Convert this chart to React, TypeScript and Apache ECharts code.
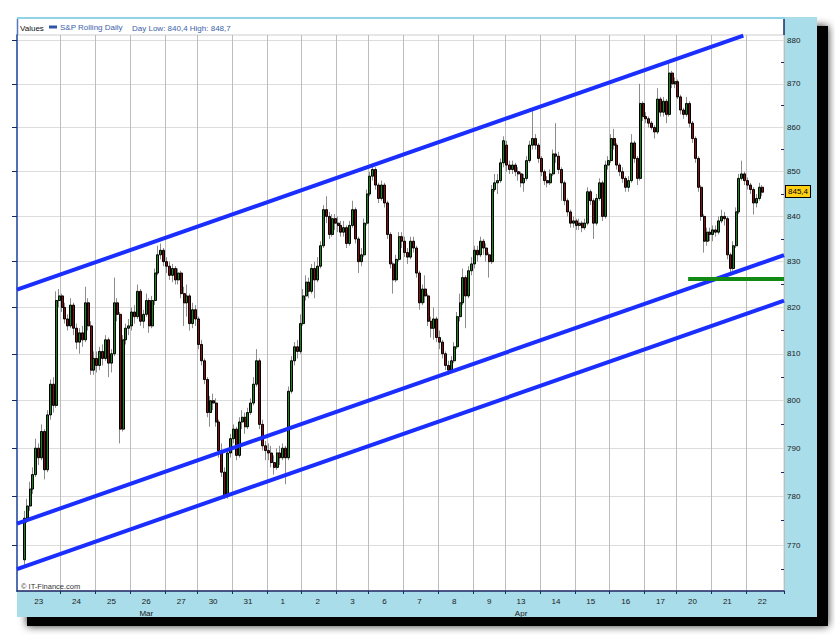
import React, { useEffect, useRef } from 'react';
import * as echarts from 'echarts';

const FONT = '"Liberation Sans", Arial, Helvetica, sans-serif';

// Trading days shown on the x axis
const dayLabels = ['23', '24', '25', '26', '27', '30', '31', '1', '2', '3', '6', '7', '8', '9', '13', '14', '15', '16', '17', '20', '21', '22'];
// second line under a day label (day index -> month)
const monthUnderDay: Record<number, string> = { 3: 'Mar', 14: 'Apr' };
const leadingEmptySlots = 2;
const trailingEmptySlots = 7;

// intraday candles: [open, close, low, high]
const mar23 = [
  [767.0, 775.5, 766.0, 777.0], [775.5, 778.0, 774.5, 779.5], [778.0, 781.5, 777.0, 783.0],
  [781.5, 784.5, 780.5, 786.0], [784.5, 790.0, 784.0, 792.0], [790.0, 788.0, 786.5, 791.0],
  [788.0, 793.5, 787.5, 795.0], [793.5, 785.5, 783.5, 794.0], [785.5, 797.0, 785.0, 798.0],
  [797.0, 803.5, 796.0, 804.5], [803.5, 799.0, 797.5, 805.0], [799.0, 821.5, 798.5, 823.5],
  [821.5, 822.5, 820.0, 824.0],
];
const mar24 = [
  [822.5, 820.0, 819.0, 823.0], [820.0, 817.5, 816.5, 821.0], [817.5, 816.0, 815.0, 818.5],
  [816.0, 820.5, 815.5, 822.0], [820.5, 815.5, 814.0, 821.0], [815.5, 812.5, 811.0, 816.5],
  [812.5, 814.5, 810.0, 815.5], [814.5, 813.0, 811.5, 816.0], [813.0, 821.0, 812.5, 824.5],
  [821.0, 816.0, 815.0, 822.0], [816.0, 806.5, 805.5, 817.0], [806.5, 809.0, 805.5, 810.5],
];
const mar25 = [
  [809.0, 807.5, 806.0, 810.5], [807.5, 810.5, 806.5, 811.5], [810.5, 809.0, 807.5, 812.0],
  [809.0, 813.0, 808.5, 814.0], [813.0, 808.0, 805.0, 813.5], [808.0, 810.0, 806.0, 811.0],
  [810.0, 821.0, 809.5, 826.5], [821.0, 818.5, 817.0, 822.0], [818.5, 794.0, 791.0, 819.0],
  [794.0, 813.0, 793.5, 814.0], [813.0, 815.5, 812.0, 816.5], [815.5, 816.0, 814.0, 817.5],
];
const mar26 = [
  [816.0, 819.0, 815.0, 820.0], [819.0, 818.0, 816.5, 820.5], [818.0, 823.5, 817.5, 825.0],
  [823.5, 817.0, 816.0, 824.0], [817.0, 818.5, 815.5, 819.5], [818.5, 821.5, 818.0, 823.0],
  [821.5, 816.0, 814.5, 822.0], [816.0, 821.5, 815.5, 822.5], [821.5, 827.5, 820.5, 828.5],
  [827.5, 831.5, 827.0, 833.5], [831.5, 832.5, 830.5, 834.0], [832.5, 830.0, 829.0, 833.0],
];
const mar27 = [
  [830.0, 829.0, 827.5, 831.0], [829.0, 827.0, 826.0, 830.0], [827.0, 828.5, 825.5, 829.5],
  [828.5, 826.0, 825.0, 829.0], [826.0, 827.5, 825.0, 828.5], [827.5, 823.0, 822.0, 828.0],
  [823.0, 821.0, 816.0, 824.5], [821.0, 822.5, 818.0, 825.0], [822.5, 816.5, 815.0, 823.0],
  [816.5, 819.5, 815.5, 821.0], [819.5, 817.5, 816.0, 820.5],
];
const mar30 = [
  [817.5, 812.0, 811.0, 818.0], [812.0, 808.5, 807.5, 813.0], [808.5, 804.5, 803.5, 809.0],
  [804.5, 797.5, 796.5, 805.0], [797.5, 800.0, 794.5, 801.0], [800.0, 799.5, 798.0, 801.5],
  [799.5, 795.5, 794.5, 800.5], [795.5, 789.5, 788.0, 796.0], [789.5, 785.0, 784.0, 791.0],
  [785.0, 780.0, 779.5, 786.0], [780.0, 789.0, 779.5, 790.0], [789.0, 792.0, 788.0, 793.0],
];
const mar31 = [
  [792.0, 794.0, 791.0, 795.0], [794.0, 788.5, 787.5, 794.5], [788.5, 795.5, 788.0, 796.5],
  [795.5, 796.5, 794.0, 798.0], [796.5, 794.5, 793.0, 797.5], [794.5, 797.5, 794.0, 798.5],
  [797.5, 799.5, 797.0, 800.5], [799.5, 803.5, 799.0, 805.0], [803.5, 808.5, 803.0, 811.0],
  [808.5, 795.0, 794.0, 809.0], [795.0, 790.5, 789.5, 796.0], [790.5, 789.5, 787.5, 791.5],
];
const apr01 = [
  [789.5, 789.0, 787.5, 791.0], [789.0, 787.0, 786.0, 790.5], [787.0, 786.0, 784.5, 788.5],
  [786.0, 789.0, 785.5, 790.0], [789.0, 788.0, 786.5, 790.5], [788.0, 790.0, 787.5, 791.0],
  [790.0, 788.0, 782.5, 790.5], [788.0, 802.0, 787.5, 803.0], [802.0, 808.5, 801.5, 809.5],
  [808.5, 811.5, 807.5, 812.5], [811.5, 810.5, 809.0, 813.0], [810.5, 816.5, 810.0, 818.5],
];
const apr02 = [
  [816.5, 822.5, 816.0, 824.0], [822.5, 825.5, 821.5, 827.0], [825.5, 823.5, 822.0, 826.5],
  [823.5, 828.5, 823.0, 829.5], [828.5, 826.0, 822.0, 830.0], [826.0, 829.0, 825.5, 831.0],
  [829.0, 833.5, 828.5, 834.5], [833.5, 841.5, 833.0, 842.5], [841.5, 840.0, 838.5, 844.5],
  [840.0, 836.0, 835.0, 841.0], [836.0, 839.5, 835.5, 840.5], [839.5, 838.5, 837.0, 840.5],
];
const apr03 = [
  [838.5, 838.0, 836.5, 840.0], [838.0, 836.5, 835.5, 839.0], [836.5, 837.5, 835.5, 839.0],
  [837.5, 834.0, 833.0, 838.0], [834.0, 838.0, 833.5, 839.0], [838.0, 841.5, 837.5, 843.5],
  [841.5, 835.0, 834.0, 842.0], [835.0, 830.0, 827.5, 835.5], [830.0, 831.5, 829.0, 833.0],
  [831.5, 838.5, 831.0, 839.5], [838.5, 845.0, 838.0, 846.0],
];
const apr06 = [
  [845.0, 849.0, 844.5, 850.0], [849.0, 850.5, 848.0, 851.8], [850.5, 847.0, 846.0, 851.0],
  [847.0, 844.0, 843.0, 847.5], [844.0, 847.0, 843.5, 848.0], [847.0, 843.0, 842.0, 847.5],
  [843.0, 836.0, 835.0, 843.5], [836.0, 829.5, 828.5, 836.5], [829.5, 826.0, 823.0, 830.0],
  [826.0, 830.5, 825.5, 831.5], [830.5, 835.5, 830.0, 836.5], [835.5, 834.5, 833.0, 836.5],
];
const apr07 = [
  [834.5, 832.0, 831.0, 835.5], [832.0, 831.0, 829.5, 833.0], [831.0, 834.5, 830.5, 835.5],
  [834.5, 833.0, 832.0, 835.5], [833.0, 827.5, 826.5, 833.5], [827.5, 821.0, 819.5, 828.0],
  [821.0, 824.0, 820.5, 825.0], [824.0, 822.5, 821.0, 827.0], [822.5, 817.0, 816.0, 823.0],
  [817.0, 815.5, 813.5, 818.0], [815.5, 817.5, 813.0, 820.0], [817.5, 813.5, 812.5, 818.0],
];
const apr08 = [
  [813.5, 812.5, 811.0, 815.0], [812.5, 810.0, 809.0, 813.0], [810.0, 807.5, 806.5, 810.5],
  [807.5, 806.5, 805.5, 808.5], [806.5, 808.5, 806.0, 809.5], [808.5, 811.5, 808.0, 812.5],
  [811.5, 818.0, 811.0, 819.0], [818.0, 821.0, 817.0, 823.0], [821.0, 826.5, 820.5, 828.5],
  [826.5, 822.5, 815.5, 827.0], [822.5, 828.0, 822.0, 829.0], [828.0, 829.5, 827.0, 831.0],
];
const apr09 = [
  [829.5, 832.5, 828.5, 833.5], [832.5, 831.5, 830.0, 833.5], [831.5, 834.5, 831.0, 835.5],
  [834.5, 833.0, 831.5, 835.0], [833.0, 831.5, 830.0, 834.0], [831.5, 830.0, 826.5, 832.0],
  [830.0, 846.0, 829.5, 847.0], [846.0, 847.5, 845.5, 849.5], [847.5, 848.0, 845.0, 849.5],
  [848.0, 852.0, 847.5, 853.0], [852.0, 857.0, 851.0, 858.0],
];
const apr13 = [
  [856.0, 851.5, 850.0, 857.0], [851.5, 850.5, 849.5, 852.5], [850.5, 851.5, 849.5, 852.5],
  [851.5, 850.0, 849.0, 852.0], [850.0, 849.5, 848.0, 851.0], [849.5, 847.5, 846.5, 850.0],
  [847.5, 848.5, 845.5, 849.5], [848.5, 852.5, 848.0, 853.5], [852.5, 856.0, 852.0, 857.0],
  [856.0, 857.5, 855.0, 864.5], [857.5, 856.0, 855.0, 858.5], [856.0, 853.0, 852.0, 856.5],
];
const apr14 = [
  [853.0, 850.0, 849.0, 853.5], [850.0, 848.0, 847.0, 850.5], [848.0, 847.5, 846.5, 849.0],
  [847.5, 849.5, 847.0, 850.5], [849.5, 854.0, 849.0, 855.0], [854.0, 853.5, 852.0, 861.0],
  [853.5, 850.5, 849.5, 854.5], [850.5, 847.5, 843.5, 851.0], [847.5, 843.5, 842.5, 848.0],
  [843.5, 841.0, 840.0, 844.0], [841.0, 838.5, 837.5, 841.5], [838.5, 839.0, 837.5, 840.0],
];
const apr15 = [
  [839.0, 838.0, 837.0, 839.5], [838.0, 838.5, 837.0, 839.5], [838.5, 837.5, 836.5, 839.0],
  [837.5, 838.5, 837.0, 839.5], [838.5, 845.5, 838.0, 846.5], [845.5, 843.5, 842.5, 846.0],
  [843.5, 838.5, 835.0, 844.0], [838.5, 844.0, 838.0, 845.0], [844.0, 847.5, 843.5, 848.5],
  [847.5, 840.0, 839.0, 848.0], [840.0, 851.5, 839.5, 852.5], [851.5, 852.5, 850.5, 853.5],
];
const apr16 = [
  [852.5, 857.5, 852.0, 858.5], [857.5, 856.0, 855.0, 859.7], [856.0, 851.5, 850.5, 856.5],
  [851.5, 850.0, 849.0, 852.0], [850.0, 848.5, 847.5, 851.0], [848.5, 846.5, 845.5, 849.0],
  [846.5, 848.0, 845.5, 849.0], [848.0, 856.5, 847.5, 858.5], [856.5, 853.0, 852.0, 857.0],
  [853.0, 848.5, 847.0, 853.5], [848.5, 865.5, 848.0, 870.0], [865.5, 862.5, 861.5, 866.0],
];
const apr17 = [
  [862.5, 862.0, 861.0, 863.5], [862.0, 861.0, 860.0, 862.5], [861.0, 860.0, 859.5, 861.5],
  [860.0, 859.0, 857.5, 860.5], [859.0, 866.5, 858.5, 869.0], [866.5, 863.5, 862.5, 867.0],
  [863.5, 866.0, 862.5, 867.0], [866.0, 863.0, 861.0, 866.5], [863.0, 872.5, 862.5, 875.0],
  [872.5, 870.0, 869.0, 873.0], [870.0, 870.5, 869.0, 871.5],
];
const apr20 = [
  [870.5, 867.0, 866.5, 871.0], [867.0, 864.0, 863.0, 867.5], [864.0, 863.0, 862.0, 864.5],
  [863.0, 865.5, 862.5, 867.0], [865.5, 861.0, 860.0, 866.0], [861.0, 857.5, 856.5, 861.5],
  [857.5, 853.0, 852.0, 858.0], [853.0, 846.5, 845.5, 853.5], [846.5, 840.0, 839.0, 847.0],
  [840.0, 834.5, 832.0, 840.5], [834.5, 836.5, 833.5, 837.5], [836.5, 836.0, 834.5, 837.5],
];
const apr21 = [
  [836.0, 837.0, 834.5, 838.0], [837.0, 836.5, 835.5, 838.0], [836.5, 839.0, 836.0, 840.0],
  [839.0, 840.0, 838.5, 841.5], [840.0, 839.5, 838.0, 841.0], [839.5, 831.5, 830.5, 840.0],
  [831.5, 828.5, 827.0, 832.0], [828.5, 833.5, 828.0, 834.5], [833.5, 841.0, 833.0, 842.0],
  [841.0, 848.5, 840.5, 849.5], [848.5, 849.5, 848.0, 852.5], [849.5, 848.0, 847.0, 850.0],
];
const apr22 = [
  [848.0, 847.0, 846.0, 848.7], [847.0, 846.0, 845.0, 847.5], [846.0, 843.0, 840.4, 846.5],
  [843.0, 844.0, 842.0, 845.0], [844.0, 846.5, 843.5, 847.5], [846.5, 845.4, 844.5, 847.0],
];

const dayBars = [mar23, mar24, mar25, mar26, mar27, mar30, mar31, apr01, apr02, apr03, apr06, apr07, apr08, apr09, apr13, apr14, apr15, apr16, apr17, apr20, apr21, apr22];

// price axis (logarithmic chart)
const priceMin = 760.69;
const priceMax = 881.33;
const priceLabels = [770, 780, 790, 800, 810, 820, 830, 840, 850, 860, 870, 880];
const priceMinorTicks = [765, 775, 785, 795, 805, 815, 825, 835, 845, 855, 865, 875];

// drawn trend lines: [slot position, price]
const channelUpper = [[0, 823.85], [250, 881.21]];
const channelMiddle = [[0, 774.39], [264, 831.44]];
const channelLower = [[0, 765.12], [264, 821.48]];
const supportLine = [[231, 826.2], [264, 826.2]];

const fmt = (v: number) => v.toFixed(1).replace('.', ',');

export default function App() {
  const ref = useRef<HTMLDivElement>(null);
  useEffect(() => {
    if (!ref.current) return;
    const chart = echarts.init(ref.current, undefined, { renderer: 'svg' });

    const categories: string[] = [];
    const labelAt: Record<number, string> = {};
    const boundaryAt: Record<number, boolean> = {};
    const wickData: number[][] = [];
    const bodyData: number[][] = [];
    for (let i = 0; i < leadingEmptySlots; i++) categories.push(`lead-${i}`);
    dayBars.forEach((bars, d) => {
      const first = categories.length;
      if (d > 0) boundaryAt[first] = true;
      bars.forEach((b, j) => {
        const idx = categories.length;
        categories.push(`${dayLabels[d]}-${j}`);
        const [o, c, l, h] = b;
        wickData.push([idx, Math.log(o), Math.log(c), Math.log(l), Math.log(h)]);
        bodyData.push([idx, Math.log(o), Math.log(c), Math.log(Math.min(o, c)), Math.log(Math.max(o, c))]);
      });
      const regionStart = d === 0 ? 0 : first;
      const regionLen = d === dayBars.length - 1 ? 12 : categories.length - regionStart;
      const ls = regionStart + Math.floor((regionLen - 1) / 2);
      labelAt[ls] = monthUnderDay[d] ? `${dayLabels[d]}\n${monthUnderDay[d]}` : dayLabels[d];
    });
    for (let i = 0; i < trailingEmptySlots; i++) categories.push(`trail-${i}`);
    const nSlots = categories.length;

    const lastDay = dayBars[dayBars.length - 1];
    const dayLow = Math.min(...lastDay.map((b) => b[2]));
    const dayHigh = Math.max(...lastDay.map((b) => b[3]));
    const lastClose = lastDay[lastDay.length - 1][1];

    const yMin = Math.log(priceMin);
    const yMax = Math.log(priceMax);
    const lnPts = (pts: number[][]) => pts.map(([x, p]) => [x, Math.log(p)]);
    const navy = '#1b2766';

    const trend = (name: string, pts: number[][], color: string) => ({
      name,
      type: 'line',
      xAxisIndex: 1,
      yAxisIndex: 0,
      data: lnPts(pts),
      symbol: 'none',
      clip: false,
      silent: true,
      z: 6,
      lineStyle: { color, width: 4 },
    });

    chart.setOption({
      animation: false,
      textStyle: { fontFamily: FONT },
      grid: { left: 17, right: 51, top: 35, bottom: 44, show: true, borderColor: '#cdcdcd', borderWidth: 1, backgroundColor: 'transparent' },
      legend: {
        data: [{ name: 'S&P Rolling Daily', icon: 'rect', itemStyle: { color: '#2d55a5', borderColor: '#2d55a5', borderWidth: 0 } }],
        left: 49,
        top: 23,
        itemWidth: 8,
        itemHeight: 3,
        padding: 0,
        selectedMode: false,
        textStyle: { color: '#3b63a8', fontSize: 8, fontFamily: FONT, padding: [0, 0, 0, -2] },
      },
      xAxis: [
        {
          type: 'category',
          data: categories,
          boundaryGap: true,
          position: 'bottom',
          axisLine: { show: true, lineStyle: { color: navy, width: 1.5 } },
          axisTick: { show: true, interval: (i: number) => !!boundaryAt[i], length: 3, lineStyle: { color: navy } },
          axisLabel: {
            interval: (i: number) => labelAt[i] !== undefined,
            formatter: (_v: string, i: number) => labelAt[i] ?? '',
            fontSize: 8,
            color: '#1a1a1a',
            margin: 4,
            lineHeight: 12,
            fontFamily: FONT,
          },
          splitLine: { show: true, interval: (i: number) => !!boundaryAt[i], lineStyle: { color: '#bdbdbd', width: 1 } },
        },
        { type: 'value', min: 0, max: nSlots, show: false },
      ],
      yAxis: [
        {
          type: 'value',
          position: 'right',
          min: yMin,
          max: yMax,
          axisLine: { show: true, lineStyle: { color: navy, width: 1.5 } },
          axisTick: { show: true, inside: true, length: 5, customValues: priceLabels.map(Math.log), lineStyle: { color: navy } },
          axisLabel: {
            customValues: priceLabels.map(Math.log),
            formatter: (v: number) => String(Math.round(Math.exp(v))),
            fontSize: 8,
            color: '#1a1a1a',
            margin: 3,
            fontFamily: FONT,
          },
          splitLine: { show: true, lineStyle: { color: '#dcdcdc', width: 1 } },
        },
        {
          type: 'value',
          position: 'right',
          min: yMin,
          max: yMax,
          axisLine: { show: false },
          axisTick: { show: true, inside: true, length: 3, customValues: priceMinorTicks.map(Math.log), lineStyle: { color: navy } },
          axisLabel: { show: false },
          splitLine: { show: false },
        },
        {
          type: 'value',
          position: 'left',
          min: yMin,
          max: yMax,
          axisLine: { show: true, lineStyle: { color: '#5378bf', width: 1.5 } },
          axisTick: { show: false },
          axisLabel: { show: false },
          splitLine: { show: false },
        },
      ],
      graphic: [
        { type: 'rect', silent: true, z: -30, shape: { x: 27, y: 26, width: 801, height: 600 }, style: { fill: '#000', shadowBlur: 8, shadowColor: 'rgba(0,0,0,0.85)' } },
        { type: 'rect', silent: true, z: -20, shape: { x: 17, y: 17, width: 800, height: 600 }, style: { fill: '#a9dde9' } },
        { type: 'rect', silent: true, z: -19, shape: { x: 17, y: 17, width: 768, height: 2 }, style: { fill: '#8fd3e4' } },
        { type: 'rect', silent: true, z: -10, shape: { x: 17, y: 19, width: 767, height: 572 }, style: { fill: '#ffffff' } },
        { type: 'line', silent: true, z: 3, shape: { x1: 784, y1: 19, x2: 784, y2: 35 }, style: { stroke: navy, lineWidth: 1.5 } },
        { type: 'line', silent: true, z: 3, shape: { x1: 17.5, y1: 19, x2: 17.5, y2: 35 }, style: { stroke: '#5378bf', lineWidth: 1.5 } },
        { type: 'text', silent: true, z: 3, x: 20, y: 28, style: { text: 'Values', fill: '#111', font: `8px ${FONT}`, verticalAlign: 'middle' } },
        { type: 'text', silent: true, z: 3, x: 132, y: 28, style: { text: `Day Low: ${fmt(dayLow)} High: ${fmt(dayHigh)}`, fill: '#3b63a8', font: `8px ${FONT}`, verticalAlign: 'middle' } },
        { type: 'text', silent: true, z: 3, x: 21, y: 586, style: { text: '© IT-Finance.com', fill: '#333', font: `7.5px ${FONT}`, verticalAlign: 'middle' } },
      ],
      series: [
        {
          name: 'wicks',
          type: 'candlestick',
          xAxisIndex: 0,
          yAxisIndex: 0,
          data: wickData,
          encode: { x: 0, y: [1, 2, 3, 4] },
          barWidth: 0.1,
          silent: true,
          z: 2,
          itemStyle: { color: '#8c8c8c', color0: '#8c8c8c', borderColor: '#8c8c8c', borderColor0: '#8c8c8c', borderWidth: 1 },
        },
        {
          name: 'S&P Rolling Daily',
          type: 'candlestick',
          xAxisIndex: 0,
          yAxisIndex: 0,
          data: bodyData,
          encode: { x: 0, y: [1, 2, 3, 4] },
          barWidth: 2.5,
          silent: true,
          z: 3,
          itemStyle: { color: '#138a13', color0: '#8a0c0c', borderColor: '#000', borderColor0: '#000', borderWidth: 1 },
          markLine: {
            silent: true,
            symbol: ['none', 'none'],
            data: [{ yAxis: Math.log(lastClose) }],
            lineStyle: { color: 'rgba(0,0,0,0)', width: 0, type: 'solid' },
            label: {
              show: true,
              position: 'end',
              distance: 2,
              formatter: () => fmt(lastClose),
              backgroundColor: '#ffcf14',
              borderColor: '#000',
              borderWidth: 1,
              padding: [2, 2, 1, 2],
              color: '#000',
              fontSize: 8,
              fontFamily: FONT,
            },
          },
        },
        trend('upper', channelUpper, '#1a2eff'),
        trend('middle', channelMiddle, '#1a2eff'),
        trend('lower', channelLower, '#1a2eff'),
        trend('support', supportLine, '#138a13'),
      ],
    });
    return () => chart.dispose();
  }, []);

  return <div ref={ref} style={{ position: 'absolute', left: 0, top: 0, width: 835, height: 635, background: '#fff' }} />;
}
